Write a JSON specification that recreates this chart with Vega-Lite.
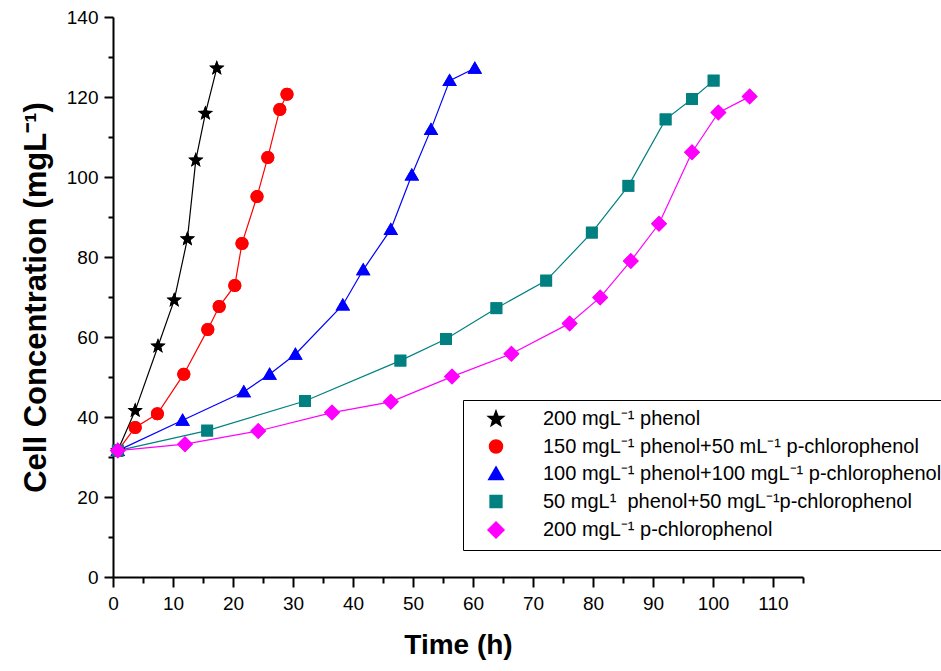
{
  "$schema": "https://vega.github.io/schema/vega-lite/v6.json",
  "autosize": {"type": "none"},
  "padding": {"left": 113, "top": 17, "right": 138, "bottom": 94},
  "width": 690,
  "height": 560,
  "background": "white",
  "data": {
    "values": [
      {"s": "\u00a0200 mgL⁻¹ phenol", "t": 0.8, "c": 31.6},
      {"s": "\u00a0200 mgL⁻¹ phenol", "t": 3.7, "c": 41.6},
      {"s": "\u00a0200 mgL⁻¹ phenol", "t": 7.5, "c": 57.7},
      {"s": "\u00a0200 mgL⁻¹ phenol", "t": 10.2, "c": 69.2},
      {"s": "\u00a0200 mgL⁻¹ phenol", "t": 12.4, "c": 84.5},
      {"s": "\u00a0200 mgL⁻¹ phenol", "t": 13.8, "c": 104.2},
      {"s": "\u00a0200 mgL⁻¹ phenol", "t": 15.4, "c": 115.9},
      {"s": "\u00a0200 mgL⁻¹ phenol", "t": 17.3, "c": 127.2},
      {"s": "150 mgL⁻¹ phenol+50 mL⁻¹ p-chlorophenol", "t": 0.8, "c": 31.6},
      {"s": "150 mgL⁻¹ phenol+50 mL⁻¹ p-chlorophenol", "t": 3.7, "c": 37.4},
      {"s": "150 mgL⁻¹ phenol+50 mL⁻¹ p-chlorophenol", "t": 7.4, "c": 40.8},
      {"s": "150 mgL⁻¹ phenol+50 mL⁻¹ p-chlorophenol", "t": 11.8, "c": 50.7},
      {"s": "150 mgL⁻¹ phenol+50 mL⁻¹ p-chlorophenol", "t": 15.8, "c": 61.9},
      {"s": "150 mgL⁻¹ phenol+50 mL⁻¹ p-chlorophenol", "t": 17.7, "c": 67.6},
      {"s": "150 mgL⁻¹ phenol+50 mL⁻¹ p-chlorophenol", "t": 20.3, "c": 72.9},
      {"s": "150 mgL⁻¹ phenol+50 mL⁻¹ p-chlorophenol", "t": 21.5, "c": 83.4},
      {"s": "150 mgL⁻¹ phenol+50 mL⁻¹ p-chlorophenol", "t": 24.0, "c": 95.1},
      {"s": "150 mgL⁻¹ phenol+50 mL⁻¹ p-chlorophenol", "t": 25.8, "c": 104.9},
      {"s": "150 mgL⁻¹ phenol+50 mL⁻¹ p-chlorophenol", "t": 27.8, "c": 116.9},
      {"s": "150 mgL⁻¹ phenol+50 mL⁻¹ p-chlorophenol", "t": 29.0, "c": 120.7},
      {"s": "100 mgL⁻¹ phenol+100 mgL⁻¹ p-chlorophenol", "t": 0.8, "c": 31.6},
      {"s": "100 mgL⁻¹ phenol+100 mgL⁻¹ p-chlorophenol", "t": 11.6, "c": 39.2},
      {"s": "100 mgL⁻¹ phenol+100 mgL⁻¹ p-chlorophenol", "t": 21.8, "c": 46.3},
      {"s": "100 mgL⁻¹ phenol+100 mgL⁻¹ p-chlorophenol", "t": 26.1, "c": 50.7},
      {"s": "100 mgL⁻¹ phenol+100 mgL⁻¹ p-chlorophenol", "t": 30.4, "c": 55.7},
      {"s": "100 mgL⁻¹ phenol+100 mgL⁻¹ p-chlorophenol", "t": 38.3, "c": 68.0},
      {"s": "100 mgL⁻¹ phenol+100 mgL⁻¹ p-chlorophenol", "t": 41.7, "c": 76.8},
      {"s": "100 mgL⁻¹ phenol+100 mgL⁻¹ p-chlorophenol", "t": 46.3, "c": 86.9},
      {"s": "100 mgL⁻¹ phenol+100 mgL⁻¹ p-chlorophenol", "t": 49.8, "c": 100.5},
      {"s": "100 mgL⁻¹ phenol+100 mgL⁻¹ p-chlorophenol", "t": 53.0, "c": 111.9},
      {"s": "100 mgL⁻¹ phenol+100 mgL⁻¹ p-chlorophenol", "t": 56.1, "c": 124.1},
      {"s": "100 mgL⁻¹ phenol+100 mgL⁻¹ p-chlorophenol", "t": 60.3, "c": 127.2},
      {"s": "\u00a050 mgL¹\u00a0 phenol+50 mgL⁻¹p-chlorophenol", "t": 0.8, "c": 31.6},
      {"s": "\u00a050 mgL¹\u00a0 phenol+50 mgL⁻¹p-chlorophenol", "t": 15.7, "c": 36.6},
      {"s": "\u00a050 mgL¹\u00a0 phenol+50 mgL⁻¹p-chlorophenol", "t": 32.0, "c": 44.0},
      {"s": "\u00a050 mgL¹\u00a0 phenol+50 mgL⁻¹p-chlorophenol", "t": 47.9, "c": 54.1},
      {"s": "\u00a050 mgL¹\u00a0 phenol+50 mgL⁻¹p-chlorophenol", "t": 55.5, "c": 59.5},
      {"s": "\u00a050 mgL¹\u00a0 phenol+50 mgL⁻¹p-chlorophenol", "t": 63.9, "c": 67.2},
      {"s": "\u00a050 mgL¹\u00a0 phenol+50 mgL⁻¹p-chlorophenol", "t": 72.2, "c": 74.1},
      {"s": "\u00a050 mgL¹\u00a0 phenol+50 mgL⁻¹p-chlorophenol", "t": 79.8, "c": 86.1},
      {"s": "\u00a050 mgL¹\u00a0 phenol+50 mgL⁻¹p-chlorophenol", "t": 85.9, "c": 97.8},
      {"s": "\u00a050 mgL¹\u00a0 phenol+50 mgL⁻¹p-chlorophenol", "t": 92.1, "c": 114.4},
      {"s": "\u00a050 mgL¹\u00a0 phenol+50 mgL⁻¹p-chlorophenol", "t": 96.5, "c": 119.5},
      {"s": "\u00a050 mgL¹\u00a0 phenol+50 mgL⁻¹p-chlorophenol", "t": 100.1, "c": 124.1},
      {"s": "\u00a0200 mgL⁻¹ p-chlorophenol", "t": 0.8, "c": 31.6},
      {"s": "\u00a0200 mgL⁻¹ p-chlorophenol", "t": 12.0, "c": 33.2},
      {"s": "\u00a0200 mgL⁻¹ p-chlorophenol", "t": 24.2, "c": 36.5},
      {"s": "\u00a0200 mgL⁻¹ p-chlorophenol", "t": 36.5, "c": 41.1},
      {"s": "\u00a0200 mgL⁻¹ p-chlorophenol", "t": 46.3, "c": 43.8},
      {"s": "\u00a0200 mgL⁻¹ p-chlorophenol", "t": 56.5, "c": 50.1},
      {"s": "\u00a0200 mgL⁻¹ p-chlorophenol", "t": 66.4, "c": 55.8},
      {"s": "\u00a0200 mgL⁻¹ p-chlorophenol", "t": 76.1, "c": 63.4},
      {"s": "\u00a0200 mgL⁻¹ p-chlorophenol", "t": 81.2, "c": 69.9},
      {"s": "\u00a0200 mgL⁻¹ p-chlorophenol", "t": 86.3, "c": 79.0},
      {"s": "\u00a0200 mgL⁻¹ p-chlorophenol", "t": 91.0, "c": 88.3},
      {"s": "\u00a0200 mgL⁻¹ p-chlorophenol", "t": 96.5, "c": 106.2},
      {"s": "\u00a0200 mgL⁻¹ p-chlorophenol", "t": 100.9, "c": 116.1},
      {"s": "\u00a0200 mgL⁻¹ p-chlorophenol", "t": 106.1, "c": 120.1}
    ]
  },
  "encoding": {
    "x": {
      "field": "t", "type": "quantitative",
      "scale": {"domain": [0, 115], "nice": false, "zero": false},
      "axis": {
        "title": "Time (h)",
        "values": [0, 5, 10, 15, 20, 25, 30, 35, 40, 45, 50, 55, 60, 65, 70, 75, 80, 85, 90, 95, 100, 105, 110, 115],
        "labelExpr": "datum.value % 10 === 0 ? datum.label : ''",
        "tickSize": {"condition": {"test": "datum.value % 10 === 0", "value": 10}, "value": 6},
        "labelFont": "Liberation Sans",
        "labelFontSize": 19,
        "labelPadding": 7,
        "titleFont": "Liberation Sans",
        "titleFontSize": 28,
        "titlePadding": 18
      }
    },
    "y": {
      "field": "c", "type": "quantitative",
      "scale": {"domain": [0, 140], "nice": false},
      "axis": {
        "title": "Cell Concentration (mgL⁻¹)",
        "values": [0, 10, 20, 30, 40, 50, 60, 70, 80, 90, 100, 110, 120, 130, 140],
        "labelExpr": "datum.value % 20 === 0 ? datum.label : ''",
        "tickSize": {"condition": {"test": "datum.value % 20 === 0", "value": 9}, "value": 5},
        "labelFont": "Liberation Sans",
        "labelFontSize": 19,
        "labelPadding": 6,
        "titleFont": "Liberation Sans",
        "titleFontSize": 31,
        "titlePadding": 14
      }
    }
  },
  "layer": [
    {
      "mark": {"type": "point", "filled": true, "opacity": 1, "strokeWidth": 0, "size": 100},
      "encoding": {
        "fill": {
          "field": "s", "type": "nominal",
          "scale": {
            "domain": ["\u00a0200 mgL⁻¹ phenol", "150 mgL⁻¹ phenol+50 mL⁻¹ p-chlorophenol", "100 mgL⁻¹ phenol+100 mgL⁻¹ p-chlorophenol", "\u00a050 mgL¹\u00a0 phenol+50 mgL⁻¹p-chlorophenol", "\u00a0200 mgL⁻¹ p-chlorophenol"],
            "range": ["#000000", "#ff0000", "#0000ff", "#008080", "#ff00ff"]
          },
          "legend": {
            "orient": "none",
            "legendX": 350,
            "legendY": 383,
            "title": null,
            "padding": 9,
            "strokeColor": "black",
            "fillColor": "white",
            "labelFont": "Liberation Sans",
            "labelFontSize": 20,
            "labelColor": "black",
            "labelLimit": 700,
            "symbolSize": 100,
            "symbolOffset": 14,
            "labelOffset": 37,
            "rowPadding": 7.5,
            "encode": {
              "legend": {"strokeWidth": {"value": 1.5}}
            }
          }
        },
        "shape": {
          "field": "s", "type": "nominal",
          "scale": {
            "domain": ["\u00a0200 mgL⁻¹ phenol", "150 mgL⁻¹ phenol+50 mL⁻¹ p-chlorophenol", "100 mgL⁻¹ phenol+100 mgL⁻¹ p-chlorophenol", "\u00a050 mgL¹\u00a0 phenol+50 mgL⁻¹p-chlorophenol", "\u00a0200 mgL⁻¹ p-chlorophenol"],
            "range": [
              "M0,-1.6L0.395,-0.544L1.522,-0.494L0.639,0.208L0.94,1.294L0,0.672L-0.94,1.294L-0.639,0.208L-1.522,-0.494L-0.395,-0.544Z",
              "M1.3,0A1.3,1.3,0,1,1,-1.3,0A1.3,1.3,0,1,1,1.3,0Z",
              "M0,-1.4L1.45,1.1L-1.45,1.1Z",
              "M-1.18,-1.18H1.18V1.18H-1.18Z",
              "M0,-1.6L1.6,0L0,1.6L-1.6,0Z"
            ]
          }
        }
      }
    },
    {
      "mark": {"type": "line", "strokeWidth": 1.2},
      "encoding": {
        "stroke": {
          "field": "s", "type": "nominal",
          "scale": {
            "domain": ["\u00a0200 mgL⁻¹ phenol", "150 mgL⁻¹ phenol+50 mL⁻¹ p-chlorophenol", "100 mgL⁻¹ phenol+100 mgL⁻¹ p-chlorophenol", "\u00a050 mgL¹\u00a0 phenol+50 mgL⁻¹p-chlorophenol", "\u00a0200 mgL⁻¹ p-chlorophenol"],
            "range": ["#000000", "#ff0000", "#0000ff", "#008080", "#ff00ff"]
          }
        }
      }
    },
    {
      "mark": {"type": "point", "filled": true, "opacity": 1, "strokeWidth": 0, "size": 100},
      "encoding": {
        "fill": {"field": "s", "type": "nominal"},
        "shape": {"field": "s", "type": "nominal"}
      }
    }
  ],
  "config": {
    "view": {"stroke": null},
    "axis": {
      "grid": false,
      "domainColor": "black",
      "domainWidth": 2,
      "tickColor": "black",
      "tickWidth": 2,
      "labelColor": "black",
      "titleColor": "black",
      "titleFontWeight": "bold",
      "labelFlush": false,
      "labelOverlap": false
    }
  }
}
